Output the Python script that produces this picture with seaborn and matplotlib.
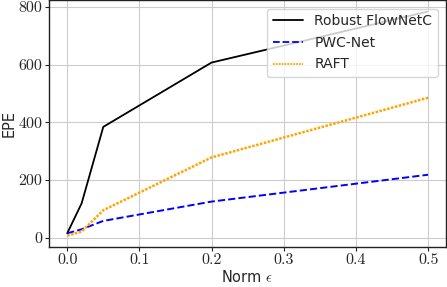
import numpy as np
import pandas as pd
import seaborn as sns
import matplotlib
matplotlib.use("Agg")
import matplotlib.pyplot as plt

# Data ----------
eps = [0.0, 0.02, 0.05, 0.2, 0.5]
robust_flownetc = [15, 119, 384, 607, 784]
pwc_net = [15, 29, 58, 125, 218]
raft = [7, 21, 95, 278, 485]

x_ticks = [0.0, 0.1, 0.2, 0.3, 0.4, 0.5]
y_ticks = [0, 200, 400, 600, 800]

sns.set_style("whitegrid")
plt.rcParams["font.family"] = ["DejaVu Sans"]
plt.rcParams["mathtext.fontset"] = "cm"
plt.rcParams["axes.edgecolor"] = "#222222"
plt.rcParams["grid.color"] = "#cccccc"

fig, ax = plt.subplots(figsize=(4.47, 2.87), dpi=100)
sns.lineplot(x=eps, y=robust_flownetc, color="black", ls="-", lw=1.3, label="Robust FlowNetC", ax=ax)
sns.lineplot(x=eps, y=pwc_net, color="blue", ls="--", lw=1.4, label="PWC-Net", ax=ax)
sns.lineplot(x=eps, y=raft, color="orange", ls=(0, (1, 0.6)), lw=1.8, label="RAFT", ax=ax)

ax.set_xticks(x_ticks)
ax.set_xticklabels([f"{v:.1f}" for v in x_ticks], fontfamily="cmr10", fontsize=11.5)
ax.set_yticks(y_ticks)
ax.set_yticklabels([f"{v}" for v in y_ticks], fontfamily="cmr10", fontsize=11.5)
ax.tick_params(axis="both", which="major", length=3, width=0.8, pad=2, color="#222222", bottom=True, left=True)
ax.set_xlabel(r"Norm $\epsilon$", fontsize=10.5, labelpad=1)
ax.set_ylabel("EPE", fontsize=10.5, labelpad=1)
for s in ax.spines.values():
    s.set_linewidth(1.0)

leg = ax.legend(loc="upper right", fontsize=10, frameon=True, framealpha=0.8,
                borderaxespad=0.6, handlelength=2.2, labelspacing=0.55, borderpad=0.4)
for h in leg.get_lines():
    h.set_linewidth(1.3)

plt.subplots_adjust(left=0.11, right=0.998, bottom=0.14, top=0.999)
plt.savefig("out.png", dpi=100)
